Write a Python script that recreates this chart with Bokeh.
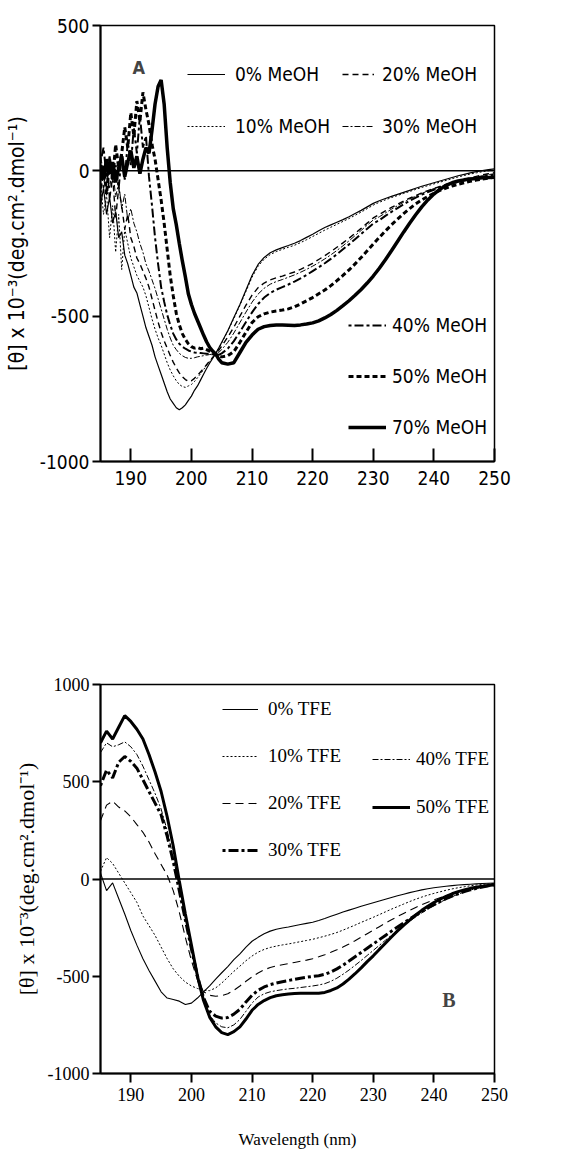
from bokeh.plotting import figure
from bokeh.models import Legend, LegendItem, Span, Label, FixedTicker
from bokeh.layouts import column
from bokeh.embed import file_html
from bokeh.resources import INLINE

# ---------------- Panel A data (MeOH) ----------------
WL_A = [185.0, 185.5, 186.0, 186.5, 187.0, 187.5, 188.0, 188.5, 189.0, 189.5,
        190.0, 190.5, 191.0, 191.5, 192.0, 192.5, 193.0, 193.5, 194.0, 194.5,
        195.0, 195.5, 196.0, 196.5, 197.0, 197.5, 198.0, 198.5, 199.0, 199.5,
        200.0, 200.5, 201.0, 201.5, 202.0, 202.5, 203.0, 203.5, 204.0, 204.5,
        205.0,
        206, 207, 208, 209, 210, 211, 212, 213, 214, 215,
        216, 217, 218, 219, 220, 221, 222, 223, 224, 225,
        226, 227, 228, 229, 230, 231, 232, 233, 234, 235,
        236, 237, 238, 239, 240, 241, 242, 243, 244, 245,
        246, 247, 248, 249, 250]

MEOH_0 = [-120, -60, -150, -90, -180, -140, -230, -210, -290, -320,
          -360, -400, -420, -460, -500, -540, -570, -600, -640, -670,
          -700, -730, -760, -785, -800, -815, -822, -815, -805, -790,
          -775, -755, -740, -720, -700, -680, -662, -645, -628, -610,
          -590,
          -550, -505, -460, -410, -360, -322, -298, -282, -272, -264,
          -257, -249, -240, -229, -218, -206, -195, -186, -177, -168,
          -158, -147, -136, -124, -112, -103, -95, -88, -81, -74,
          -67, -60, -53, -47, -41, -35, -29, -23, -17, -12,
          -7, -3, 1, 4, 7]
MEOH_10 = [-40, -150, -80, -230, -120, -280, -150, -340, -200, -250,
           -300, -330, -360, -380, -400, -430, -470, -510, -545, -575,
           -600, -630, -660, -685, -705, -722, -735, -742, -745, -740,
           -735, -725, -712, -698, -684, -670, -656, -642, -630, -612,
           -592,
           -552, -508, -462, -415, -366, -328, -304, -288, -278, -270,
           -263, -256, -247, -237, -226, -215, -204, -194, -184, -174,
           -164, -153, -142, -130, -118, -108, -100, -92, -85, -78,
           -71, -64, -57, -51, -45, -39, -33, -27, -21, -16,
           -11, -7, -3, 0, 3]
MEOH_20 = [20, -60, 30, -100, -20, -160, -60, -120, -200, -150,
           -230, -260, -300, -320, -345, -370, -400, -440, -480, -520,
           -555, -585, -610, -635, -658, -678, -695, -708, -718, -724,
           -722, -714, -704, -692, -680, -667, -654, -642, -630, -618,
           -603,
           -572, -538, -500, -462, -428, -402, -386, -375, -368, -362,
           -355, -348, -339, -329, -318, -305, -292, -278, -263, -248,
           -232, -215, -198, -180, -162, -150, -138, -126, -115, -104,
           -94, -85, -76, -68, -61, -54, -47, -41, -35, -29,
           -24, -19, -14, -10, -6]
MEOH_30 = [60, -20, 40, -60, 10, -90, -40, -130, -80, -170,
           -130, -180, -210, -250, -280, -320, -345, -375, -405, -440,
           -475, -510, -545, -575, -600, -615, -628, -636, -642, -645,
           -645, -643, -640, -638, -636, -634, -632, -631, -630, -625,
           -615,
           -590, -558, -522, -486, -452, -424, -404, -390, -381, -374,
           -366, -358, -349, -339, -328, -316, -303, -289, -274, -258,
           -241, -223, -205, -187, -169, -158, -145, -132, -120, -108,
           -97, -87, -78, -69, -61, -54, -47, -41, -35, -30,
           -25, -21, -17, -13, -10]
MEOH_40 = [30, 80, -20, 50, -40, 20, -60, 60, -30, 100,
           20, 150, 60, 190, 80, 120, -20, -120, -230, -320,
           -400, -450, -495, -530, -560, -580, -595, -605, -612, -618,
           -622, -625, -626, -627, -628, -629, -630, -631, -632, -633,
           -628,
           -612, -586, -554, -520, -487, -458, -436, -420, -409, -400,
           -391, -381, -370, -358, -345, -332, -318, -303, -287, -270,
           -253, -235, -217, -199, -181, -170, -155, -141, -128, -115,
           -103, -92, -82, -73, -65, -57, -50, -44, -38, -33,
           -28, -24, -20, -16, -13]
MEOH_50 = [-60, 20, -80, 40, -30, 90, 10, 60, 150, 80,
           200, 120, 240, 170, 270, 210, 160, 90, 40, -30,
           -100, -180, -270, -360, -430, -490, -530, -560, -580, -595,
           -605, -610, -608, -612, -610, -615, -620, -626, -632, -637,
           -640,
           -636, -622, -590, -555, -522, -502, -492, -486, -482, -479,
           -475, -468, -458, -447, -436, -423, -410, -395, -378, -360,
           -341, -320, -298, -275, -252, -229, -207, -186, -166, -147,
           -130, -114, -100, -88, -77, -67, -59, -52, -46, -41,
           -36, -32, -28, -25, -22]
MEOH_70 = [20, -30, 40, -10, 30, -40, 10, 50, -20, 30,
           70, 10, 50, -10, 40, 80, 60, 140, 230, 290,
           313, 230, 80, -40, -130, -185, -250, -310, -365, -424,
           -460, -490, -515, -540, -565, -588, -607, -620, -630, -648,
           -660,
           -665, -660, -625, -590, -565, -545, -536, -532, -530, -530,
           -531, -532, -530, -527, -523, -516, -506, -494, -480, -464,
           -447, -428, -408, -386, -362, -335, -306, -275, -243, -211,
           -180, -151, -124, -100, -80, -63, -50, -41, -35, -31,
           -28, -26, -24, -23, -22]

# ---------------- Panel B data (TFE) ----------------
WL_B = [185, 186, 187, 188, 189, 190, 191, 192, 193, 194,
        195, 196, 197, 198, 199, 200, 201, 202, 203, 204,
        205, 206, 207, 208, 209, 210, 211, 212, 213, 214,
        215, 216, 217, 218, 219, 220, 221, 222, 223, 224,
        225, 226, 227, 228, 229, 230, 231, 232, 233, 234,
        235, 236, 237, 238, 239, 240, 241, 242, 243, 244,
        245, 246, 247, 248, 249, 250]

TFE_0 = [30, -60, -20, -100, -180, -265, -340, -410, -470, -525,
         -580, -612, -620, -628, -645, -638, -612, -580, -550, -515,
         -482, -450, -415, -385, -350, -320, -300, -282, -268, -258,
         -252, -247, -240, -234, -228, -222, -213, -203, -192, -181,
         -170, -160, -150, -140, -131, -122, -113, -104, -95, -86,
         -78, -70, -63, -56, -50, -45, -41, -37, -34, -31,
         -29, -27, -25, -23, -22, -21]
TFE_10 = [40, 110, 80, 30, -20, -70, -120, -190, -240, -290,
          -350, -410, -462, -500, -530, -550, -563, -572, -574, -560,
          -535, -505, -475, -448, -420, -396, -376, -362, -352, -345,
          -339, -334, -328, -322, -316, -310, -302, -294, -285, -275,
          -263, -250, -237, -223, -210, -197, -183, -169, -155, -142,
          -129, -116, -104, -93, -83, -74, -66, -58, -51, -45,
          -40, -35, -31, -28, -25, -23]
TFE_20 = [300, 380, 400, 370, 350, 320, 280, 240, 190, 130,
          75, 20, -60, -170, -300, -420, -520, -580, -598, -603,
          -600, -590, -572, -550, -526, -503, -483, -467, -455, -447,
          -441, -435, -429, -423, -417, -410, -400, -389, -377, -364,
          -350, -334, -317, -299, -281, -263, -245, -227, -210, -193,
          -177, -161, -146, -132, -119, -107, -96, -86, -76, -67,
          -59, -52, -45, -39, -34, -30]
TFE_30 = [480, 560, 520, 600, 630, 605, 570, 510, 450, 390,
          330, 220, 90, -60, -210, -360, -500, -610, -680, -705,
          -715, -712, -695, -670, -632, -598, -572, -555, -543, -535,
          -528, -522, -516, -510, -505, -501, -497, -490, -478, -462,
          -443, -422, -400, -378, -356, -334, -312, -290, -268, -247,
          -226, -206, -186, -167, -149, -132, -116, -101, -88, -76,
          -65, -56, -48, -41, -35, -30]
TFE_40 = [650, 700, 680, 690, 705, 680, 640, 580, 510, 440,
          360, 250, 110, -40, -200, -350, -500, -620, -700, -740,
          -760, -765, -750, -722, -680, -638, -607, -590, -580, -574,
          -569, -565, -562, -558, -554, -550, -545, -538, -526, -510,
          -490, -468, -444, -419, -393, -367, -341, -315, -289, -264,
          -240, -217, -195, -174, -155, -137, -120, -105, -91, -78,
          -67, -57, -49, -42, -36, -31]
TFE_50 = [700, 760, 720, 780, 840, 810, 770, 720, 640, 550,
          450, 320, 170, -10, -180, -340, -500, -625, -710, -760,
          -790, -800, -785, -760, -720, -675, -645, -625, -610, -600,
          -595, -591, -589, -588, -588, -588, -587, -583, -573, -560,
          -540, -515, -487, -457, -425, -395, -362, -330, -298, -267,
          -238, -211, -185, -161, -140, -121, -104, -89, -76, -65,
          -56, -48, -42, -37, -33, -30]

X_TICKS = [190, 200, 210, 220, 230, 240, 250]
Y_TICKS_A = [-1000, -500, 0, 500]
Y_TICKS_B = [-1000, -500, 0, 500, 1000]
Y_LABEL = "[\u03b8] x 10\u207b\u00b3(deg.cm\u00b2.dmol\u207b\u00b9)"

SANS = "DejaVu Sans Condensed, Liberation Sans"
SERIF = "Liberation Serif"


def style(p, font, tick_size, x_tick_in, x_tick_out, yticks):
    p.grid.visible = False
    p.outline_line_color = "black"
    p.outline_line_width = 1.5
    p.background_fill_color = "white"
    p.border_fill_color = "white"
    for ax in (p.xaxis[0], p.yaxis[0]):
        ax.axis_line_width = 2
        ax.major_tick_line_width = 2
        ax.minor_tick_line_color = None
        ax.major_label_text_font = font
        ax.major_label_text_font_size = tick_size
        ax.major_label_text_color = "black"
        ax.axis_label_text_font = font
        ax.axis_label_text_font_style = "normal"
        ax.axis_label_text_color = "black"
    p.xaxis[0].major_tick_in = x_tick_in
    p.xaxis[0].major_tick_out = x_tick_out
    p.yaxis[0].major_tick_in = 0
    p.yaxis[0].major_tick_out = 8
    p.yaxis[0].major_label_standoff = 3
    p.yaxis[0].major_label_overrides = {t: str(t) for t in yticks}
    p.add_layout(Span(location=0, dimension="width", line_color="black", line_width=1.5))


def make_legend(items, loc, font, size, glyph_w, spacing, standoff):
    return Legend(items=items, location=loc, glyph_width=glyph_w, glyph_height=20,
                  label_height=20, label_standoff=standoff, spacing=spacing,
                  padding=0, margin=0, border_line_alpha=0, background_fill_alpha=0,
                  label_text_font=font, label_text_font_size=size,
                  label_text_color="black")


# ---------------- Panel A ----------------
pA = figure(width=584, height=520, x_range=(185, 250), y_range=(-1000, 500),
            output_backend="svg", toolbar_location=None,
            min_border_left=95, min_border_right=90, min_border_top=25, min_border_bottom=59)
style(pA, SANS, "19px", 13, 0, Y_TICKS_A)
pA.xaxis.ticker = FixedTicker(ticks=X_TICKS)
pA.yaxis.ticker = FixedTicker(ticks=Y_TICKS_A)
pA.xaxis.major_label_standoff = 9
pA.yaxis.axis_label = Y_LABEL
pA.yaxis.axis_label_text_font_size = "21px"
pA.yaxis.axis_label_standoff = 8

rA0 = pA.line(WL_A, MEOH_0, line_color="black", line_width=1.2)
rA10 = pA.line(WL_A, MEOH_10, line_color="black", line_width=1, line_dash="2 2")
rA20 = pA.line(WL_A, MEOH_20, line_color="black", line_width=1.4, line_dash="6 4")
rA30 = pA.line(WL_A, MEOH_30, line_color="black", line_width=1, line_dash="6 2 2 2")
rA40 = pA.line(WL_A, MEOH_40, line_color="black", line_width=2, line_dash="3 3 9 3")
rA50 = pA.line(WL_A, MEOH_50, line_color="black", line_width=3, line_dash="5 3")
rA70 = pA.line(WL_A, MEOH_70, line_color="black", line_width=3.5)

legA1 = make_legend([LegendItem(label="0% MeOH", renderers=[rA0]),
                     LegendItem(label="10% MeOH", renderers=[rA10])],
                    (87, 324), SANS, "19px", 38, 30, 10)
legA2 = make_legend([LegendItem(label="20% MeOH", renderers=[rA20]),
                     LegendItem(label="30% MeOH", renderers=[rA30])],
                    (242, 324), SANS, "19px", 32, 30, 8)
legA3 = make_legend([LegendItem(label="40% MeOH", renderers=[rA40]),
                     LegendItem(label="50% MeOH", renderers=[rA50]),
                     LegendItem(label="70% MeOH", renderers=[rA70])],
                    (248, 23), SANS, "19px", 38, 29, 6)
for lg in (legA1, legA2, legA3):
    pA.add_layout(lg)
pA.add_layout(Label(x=191.3, y=355, text="A", text_font=SANS,
                    text_font_style="bold", text_font_size="18px",
                    text_align="center", text_baseline="middle"))

# ---------------- Panel B ----------------
pB = figure(width=584, height=638, x_range=(185, 250), y_range=(-1000, 1000),
            output_backend="svg", toolbar_location=None,
            min_border_left=100, min_border_right=75, min_border_top=164, min_border_bottom=85)
style(pB, SERIF, "18px", 0, 9, Y_TICKS_B)
pB.xaxis.ticker = FixedTicker(ticks=X_TICKS)
pB.yaxis.ticker = FixedTicker(ticks=Y_TICKS_B)
pB.xaxis.major_label_standoff = 5
pB.xaxis.axis_label = "Wavelength (nm)"
pB.xaxis.axis_label_text_font_size = "17px"
pB.xaxis.axis_label_standoff = 26
pB.yaxis.axis_label = Y_LABEL
pB.yaxis.axis_label_text_font_size = "22px"
pB.yaxis.axis_label_standoff = 6

rB0 = pB.line(WL_B, TFE_0, line_color="black", line_width=1.1)
rB10 = pB.line(WL_B, TFE_10, line_color="black", line_width=1, line_dash="2 2")
rB20 = pB.line(WL_B, TFE_20, line_color="black", line_width=1.1, line_dash="8 5")
rB30 = pB.line(WL_B, TFE_30, line_color="black", line_width=3, line_dash="3 3 10 3")
rB40 = pB.line(WL_B, TFE_40, line_color="black", line_width=1, line_dash="6 2 2 2")
rB50 = pB.line(WL_B, TFE_50, line_color="black", line_width=3)

legB1 = make_legend([LegendItem(label="0% TFE", renderers=[rB0]),
                     LegendItem(label="10% TFE", renderers=[rB10]),
                     LegendItem(label="20% TFE", renderers=[rB20]),
                     LegendItem(label="30% TFE", renderers=[rB30])],
                    (122, 212), SERIF, "19px", 36, 25, 10)
legB2 = make_legend([LegendItem(label="40% TFE", renderers=[rB40]),
                     LegendItem(label="50% TFE", renderers=[rB50])],
                    (272, 255), SERIF, "19px", 38, 26, 6)
pB.add_layout(legB1)
pB.add_layout(legB2)
pB.add_layout(Label(x=242.5, y=-622, text="B", text_font=SERIF,
                    text_font_style="bold", text_font_size="20px",
                    text_align="center", text_baseline="middle"))

layout = column(pA, pB, spacing=0)
open("out.html", "w").write(file_html(layout, INLINE))
